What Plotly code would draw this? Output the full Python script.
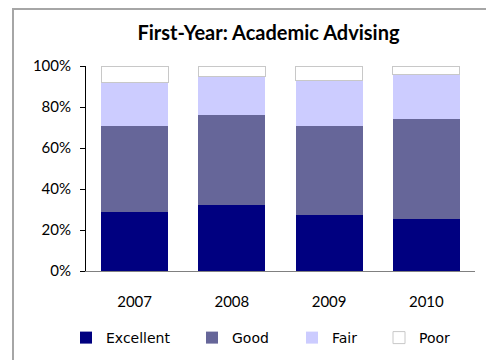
import plotly.graph_objects as go

years = ["2007", "2008", "2009", "2010"]
excellent = [29, 32, 27.5, 25.5]
good = [41.5, 44, 43, 48.5]
fair = [21.5, 19, 22.5, 22]
poor = [8, 5, 7, 4]

series = [
    ("Excellent", excellent, "#000080", "#000080", 0),
    ("Good", good, "#666699", "#666699", 0),
    ("Fair", fair, "#CCCCFF", "#CCCCFF", 0),
    ("Poor", poor, "#FFFFFF", "#C8C8C8", 1),
]
legend_ids = ["legend", "legend2", "legend3", "legend4"]

# page body has an 8px margin, so the figure is offset by 8px
OFF = 8
W, H = 494 - OFF, 360 - OFF
ml, mr, mt, mb = 86 - OFF, 19, 66 - OFF, 89
pw = W - ml - mr
ph = H - mt - mb

legend_x_px = [66 - OFF, 192 - OFF, 292 - OFF, 379 - OFF]

fig = go.Figure()
for (name, vals, fc, lc, lw), lid in zip(series, legend_ids):
    fig.add_trace(go.Bar(
        x=years, y=vals, name=name,
        marker=dict(color=fc, line=dict(color=lc, width=lw)),
        legend=lid,
    ))

font_family = "Lato, Carlito, Calibri, sans-serif"
legend_common = dict(
    orientation="h", yanchor="middle", xanchor="left",
    font=dict(family="DejaVu Sans, sans-serif", size=14, color="#000000"),
    bgcolor="rgba(0,0,0,0)", itemwidth=30, tracegroupgap=0,
)
legends = {}
for lid, xp in zip(legend_ids, legend_x_px):
    legends[lid] = dict(legend_common, x=(xp - ml) / pw,
                        y=(H - mb - (338 - OFF)) / ph)

fig.update_layout(
    width=W, height=H,
    margin=dict(l=ml, r=mr, t=mt, b=mb, autoexpand=False),
    barmode="stack", bargap=0.31,
    paper_bgcolor="#FFFFFF", plot_bgcolor="#FFFFFF",
    showlegend=True,
    title=dict(
        text="<b>First-Year: Academic Advising</b>",
        x=((137 + 400) / 2 - OFF) / W, xanchor="center",
        y=1 - (33 - OFF) / H, yanchor="middle", yref="container",
        font=dict(family=font_family, size=20, color="#000000"),
    ),
    font=dict(family=font_family, size=15, color="#000000"),
    xaxis=dict(
        showline=True, linecolor="#808080", linewidth=1,
        ticks="", showgrid=False, ticklabelstandoff=17,
        tickfont=dict(family=font_family, size=15),
    ),
    yaxis=dict(
        range=[0, 100], dtick=20, ticksuffix="%",
        showline=True, linecolor="#000000", linewidth=1,
        ticks="outside", ticklen=5, tickcolor="#000000",
        showgrid=False, zeroline=False, ticklabelstandoff=6,
        tickfont=dict(family=font_family, size=15),
    ),
    **legends,
)

fig.add_shape(
    type="rect", xref="paper", yref="paper",
    x0=(13 - OFF - ml) / pw, x1=(W + 20 - ml) / pw,
    y0=(H - mb - (H + 20)) / ph, y1=(H - mb - 1) / ph,
    line=dict(color="#A6A6A6", width=2), fillcolor="rgba(0,0,0,0)",
    layer="below",
)

fig.write_html("out.html")
